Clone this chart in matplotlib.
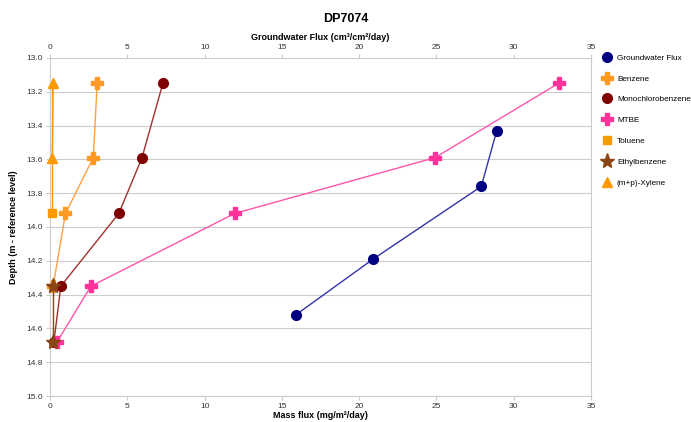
import matplotlib
matplotlib.use('Agg')
from matplotlib import pyplot as plt
import matplotlib.lines as mlines

plt.rcParams['font.family'] = ['Liberation Sans', 'DejaVu Sans']

# groundwater flux (top axis)
gw_depth = [13.43, 13.76, 14.19, 14.52]
gw_flux = [28.9, 27.9, 20.9, 15.9]

# mass flux series (bottom axis)
benzene_depth = [13.15, 13.59, 13.92, 14.35]
benzene = [3.05, 2.8, 1.0, 0.2]
mcb_depth = [13.15, 13.59, 13.92, 14.35, 14.68]
mcb = [7.3, 5.95, 4.45, 0.7, 0.25]
mtbe_depth = [13.15, 13.59, 13.92, 14.35, 14.68]
mtbe = [32.9, 24.9, 11.95, 2.65, 0.45]
toluene_depth = [13.15, 13.59, 13.92]
toluene = [0.15, 0.15, 0.15]
ethyl_depth = [14.35, 14.68]
ethyl = [0.2, 0.2]
xylene_depth = [13.15, 13.59]
xylene = [0.2, 0.15]

y_ticks = [13.0, 13.2, 13.4, 13.6, 13.8, 14.0, 14.2, 14.4, 14.6, 14.8, 15.0]
x_ticks = [0, 5, 10, 15, 20, 25, 30, 35]

fig = plt.figure(figsize=(6.91, 4.22), dpi=100)
ax = fig.add_axes([0.0724, 0.0616, 0.7829, 0.801])
ax2 = ax.twiny()

grid_c = '#cccccc'
ax.set_ylim(15.0, 13.0)
ax.set_xlim(0, 35)
ax2.set_xlim(0, 35)
ax.set_yticks(y_ticks)
ax.set_yticklabels(['{:.1f}'.format(v) for v in y_ticks])
ax.set_xticks(x_ticks)
ax2.set_xticks(x_ticks)
ax.grid(axis='y', color=grid_c, lw=0.8)
ax.set_axisbelow(True)
for s in ax.spines.values():
    s.set_color(grid_c)
    s.set_zorder(0.5)
for s in ax2.spines.values():
    s.set_visible(False)
for a in (ax, ax2):
    a.tick_params(colors=grid_c, labelcolor='#333333', labelsize=6, length=3, width=0.8, pad=2)

# toluene first so xylene triangles sit on top
ax.plot(toluene, toluene_depth, color='#ff9900', lw=1, zorder=3, clip_on=False)
h_tol, = ax.plot(toluene[-1:], toluene_depth[-1:], 's', color='#ff9900', ms=6, ls='none', zorder=4, clip_on=False)
h_ben, = ax.plot(benzene, benzene_depth, color='#ffa040', lw=1, marker='P', ms=8,
                 mfc='#ff9922', mec='#ff9922', zorder=4, clip_on=False)
h_mcb, = ax.plot(mcb, mcb_depth, color='#a03030', lw=1, marker='o', ms=7,
                 mfc='#800000', mec='#800000', zorder=4, clip_on=False)
h_mtbe, = ax.plot(mtbe, mtbe_depth, color='#ff55aa', lw=1, marker='P', ms=8,
                  mfc='#ff3399', mec='#ff3399', zorder=4, clip_on=False)
h_eth, = ax.plot(ethyl, ethyl_depth, color='#8b4513', lw=1, marker='*', ms=11,
                 mfc='#8b4513', mec='#8b4513', zorder=5, clip_on=False)
h_xyl, = ax.plot(xylene, xylene_depth, color='#ff9900', lw=1, marker='^', ms=7,
                 mfc='#ff9900', mec='#ff9900', zorder=5, clip_on=False)
h_gw, = ax2.plot(gw_flux, gw_depth, color='#3333aa', lw=1, marker='o', ms=7,
                 mfc='#000080', mec='#000080', clip_on=False)

ax.set_xlabel('Mass flux (mg/m²/day)', fontsize=6.5, fontweight='bold', labelpad=1)
ax.set_ylabel('Depth (m - reference level)', fontsize=6.5, fontweight='bold', labelpad=6)
ax2.set_xlabel('Groundwater Flux (cm³/cm²/day)', fontsize=6.5, fontweight='bold', labelpad=3)
fig.text(0.5, 0.955, 'DP7074', ha='center', va='center', fontsize=9, fontweight='bold')

handles = [h_gw, h_ben, h_mcb, h_mtbe, h_tol, h_eth, h_xyl]
labels = ['Groundwater Flux', 'Benzene', 'Monochlorobenzene', 'MTBE', 'Toluene',
          'Ethylbenzene', '(m+p)-Xylene']
leg_h = [mlines.Line2D([], [], ls='none', marker=h.get_marker(), color=h.get_markerfacecolor(),
                       ms=h.get_markersize()) for h in handles]
fig.legend(leg_h, labels, loc='upper left', bbox_to_anchor=(0.862, 0.88), frameon=False,
           fontsize=5.9, labelspacing=1.6, handletextpad=0.2, borderaxespad=0)

fig.savefig('out.png', dpi=100)
